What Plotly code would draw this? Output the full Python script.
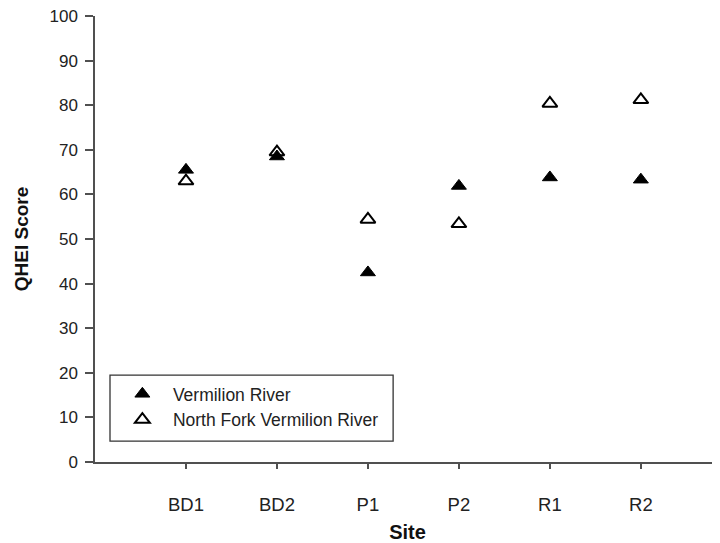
import plotly.graph_objects as go

# Datos de la figura
sites = ["BD1", "BD2", "P1", "P2", "R1", "R2"]
site_pos = [1, 2, 3, 4, 5, 6]
vermilion = [65.5, 68.5, 42.5, 61.9, 63.8, 63.3]
north_fork = [63.0, 69.5, 54.4, 53.4, 80.4, 81.2]

FONT = "Liberation Sans, Arial, sans-serif"
AXIS_COLOR = "#505050"

fig = go.Figure()

fig.add_trace(go.Scatter(
    x=site_pos, y=vermilion, mode="markers", name="Vermilion River",
    marker=dict(symbol="triangle-up", size=13, color="black",
                line=dict(color="black", width=1)),
))
fig.add_trace(go.Scatter(
    x=site_pos, y=north_fork, mode="markers", name="North Fork Vermilion River",
    marker=dict(symbol="triangle-up-open", size=13, color="black",
                line=dict(color="black", width=2)),
))

# Caja de la leyenda
fig.add_shape(type="rect", xref="paper", yref="paper",
              x0=0.024, x1=0.477, y0=0.047, y1=0.195,
              line=dict(color="#333333", width=1.3), fillcolor="rgba(0,0,0,0)")

# la pagina html tiene 8px de margen, se compensa en los margenes
fig.update_layout(
    width=720, height=543,
    margin=dict(l=87, r=8, t=8, b=89),
    paper_bgcolor="white", plot_bgcolor="white",
    font=dict(family=FONT, size=15, color="#222222"),
    showlegend=True,
    legend=dict(
        x=0.027, y=0.193, xanchor="left", yanchor="top",
        bgcolor="rgba(0,0,0,0)", borderwidth=0,
        font=dict(size=17.5, color="#222222"),
        itemwidth=51,
        tracegroupgap=0,
    ),
    xaxis=dict(
        range=[0, 6.87],
        tickvals=site_pos, ticktext=sites,
        tickfont=dict(size=18.5),
        automargin=False,
        showgrid=False, zeroline=False,
        showline=True, linecolor=AXIS_COLOR, linewidth=1.5,
        ticks="outside", ticklen=5, tickcolor=AXIS_COLOR, tickwidth=1.5,
        ticklabelstandoff=20,
        title=dict(text="<b>Site</b>", font=dict(size=20, color="#111111"), standoff=11),
    ),
    yaxis=dict(
        range=[0, 100],
        tickvals=list(range(0, 101, 10)),
        tickfont=dict(size=17),
        ticklabeloverflow="allow",
        automargin=False,
        showgrid=False, zeroline=False,
        showline=True, linecolor=AXIS_COLOR, linewidth=1.5,
        ticks="outside", ticklen=8, tickcolor=AXIS_COLOR, tickwidth=1.5,
        ticklabelstandoff=4,
        title=dict(text="<b>QHEI Score</b>", font=dict(size=19, color="#111111"), standoff=16),
    ),
)

fig.write_html("out.html")
